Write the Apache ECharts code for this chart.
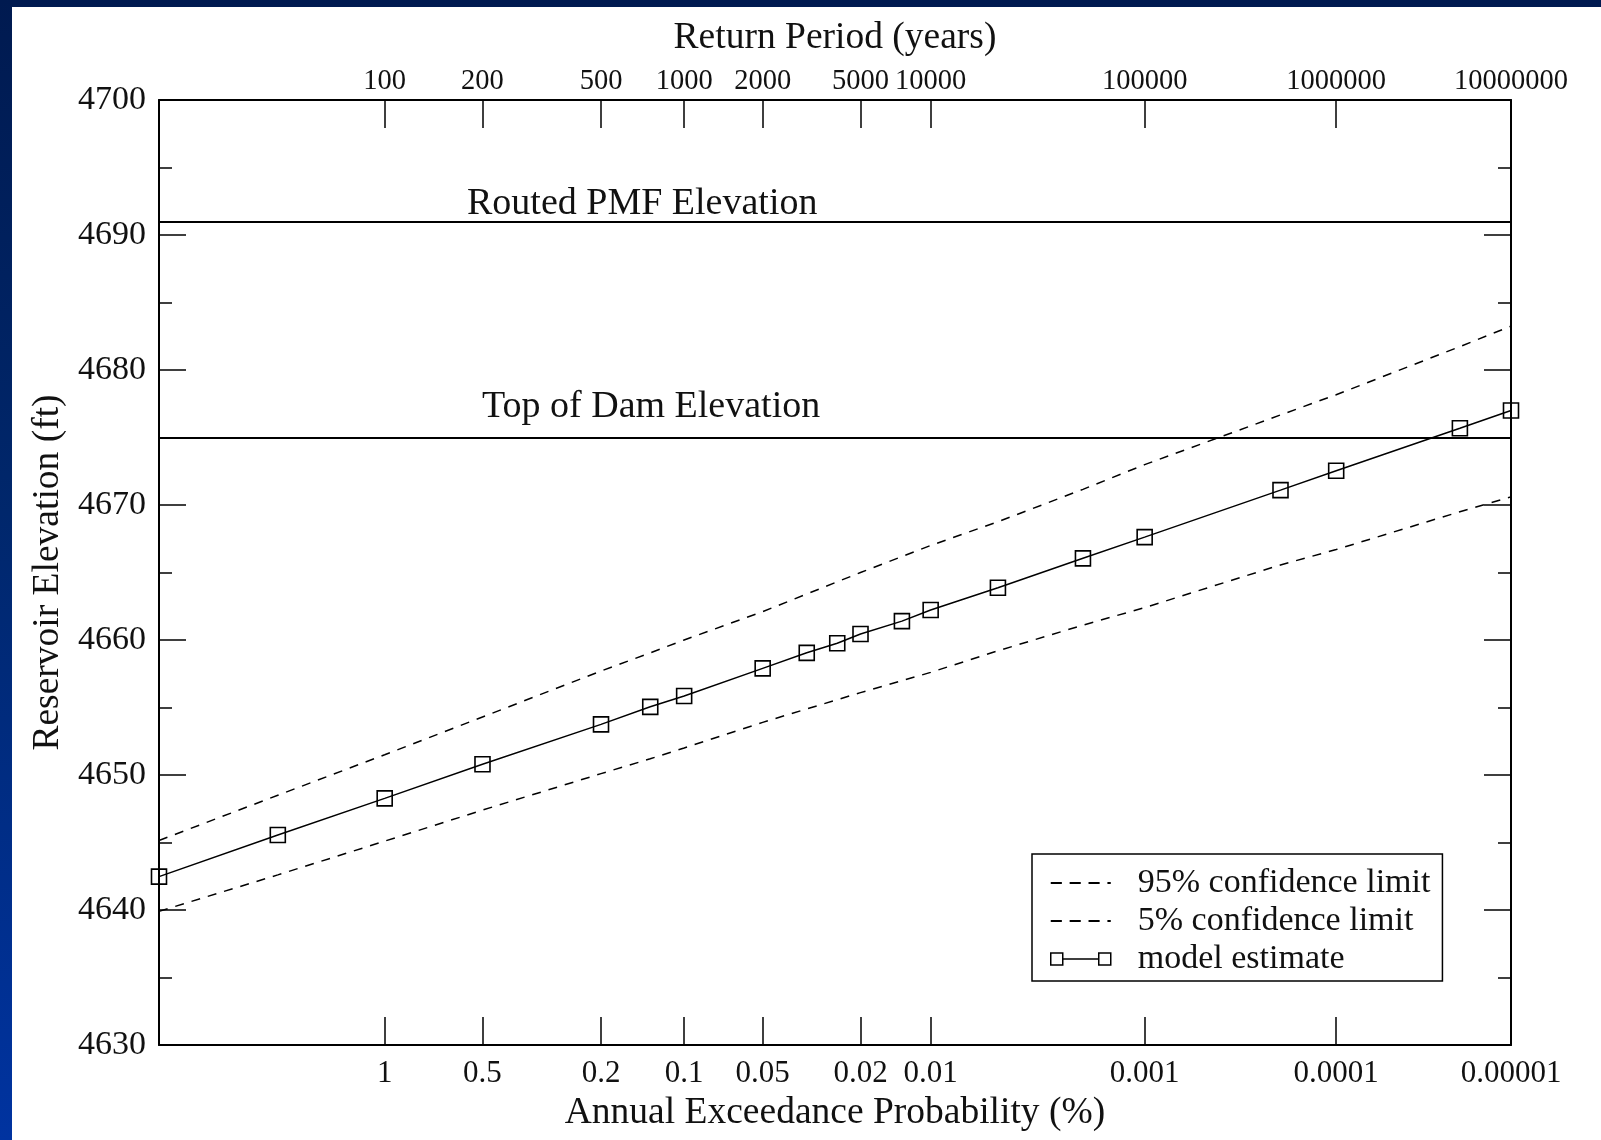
<!DOCTYPE html>
<html><head><meta charset="utf-8">
<script src="https://cdn.jsdelivr.net/npm/echarts@6/dist/echarts.min.js"></script>
<style>
html,body{margin:0;padding:0;width:1601px;height:1140px;overflow:hidden;}
body{background:linear-gradient(to bottom,#001a50 0%,#00276c 45%,#0033a0 100%);position:relative;}
#paper{position:absolute;left:12px;top:7px;right:0;bottom:0;background:#fff;}
#chart{position:absolute;left:0;top:0;width:1601px;height:1140px;}
</style></head><body><div id="paper"></div><div id="chart"></div>
<script>
// ---------------- data ----------------
const axisReturnPeriodMin = 25;
const axisReturnPeriodMax = 10000000;
const returnPeriods = [25,50,100,200,500,750,1000,2000,3000,4000,5000,7500,10000,20000,50000,100000,500000,1000000,5000000,10000000];
const modelEstimate = [4642.47,4645.56,4648.27,4650.8,4653.75,4655.05,4655.85,4657.9,4659.05,4659.76,4660.44,4661.4,4662.22,4663.87,4666.05,4667.62,4671.1,4672.54,4675.68,4677.0];
const limitPeriods = [25,50,100,200,500,750,1000,2000,5000,10000,20000,50000,100000,500000,1000000,5000000,10000000];
const upper95 = [4645.15,4648.5,4651.5,4654.3,4657.7,4659.05,4660.0,4662.1,4665.0,4667.0,4668.76,4671.16,4672.99,4676.67,4678.17,4681.73,4683.25];
const lower5 = [4639.9,4642.6,4645.1,4647.4,4650.1,4651.2,4652.0,4653.9,4656.1,4657.6,4659.2,4661.1,4662.4,4665.56,4666.7,4669.5,4670.6];
const aepTicksPct = [1,0.5,0.2,0.1,0.05,0.02,0.01,0.001,0.0001,0.00001];
const aepLabels = ['1','0.5','0.2','0.1','0.05','0.02','0.01','0.001','0.0001','0.00001'];
const rpTicks = [100,200,500,1000,2000,5000,10000,100000,1000000,10000000];
const rpLabels = ['100','200','500','1000','2000','5000','10000','100000','1000000','10000000'];
const yMin = 4630, yMax = 4700, yInterval = 10;
const refLineNames = ['Routed PMF Elevation','Top of Dam Elevation'];
const refLineValues = [4691, 4675];
const seriesNames = ['95% confidence limit','5% confidence limit','model estimate'];

// ---------------- normal probability scale ----------------
function normInv(p){
  const a=[-3.969683028665376e+01,2.209460984245205e+02,-2.759285104469687e+02,1.383577518672690e+02,-3.066479806614716e+01,2.506628277459239e+00];
  const b=[-5.447609879822406e+01,1.615858368580409e+02,-1.556989798598866e+02,6.680131188771972e+01,-1.328068155288572e+01];
  const c=[-7.784894002430293e-03,-3.223964580411365e-01,-2.400758277161838e+00,-2.549732539343734e+00,4.374664141464968e+00,2.938163982698783e+00];
  const d=[7.784695709041462e-03,3.224671290700398e-01,2.445134137142996e+00,3.754408661907416e+00];
  const pl=0.02425; let q,r;
  if(p<pl){q=Math.sqrt(-2*Math.log(p));return (((((c[0]*q+c[1])*q+c[2])*q+c[3])*q+c[4])*q+c[5])/((((d[0]*q+d[1])*q+d[2])*q+d[3])*q+1);}
  if(p<=1-pl){q=p-0.5;r=q*q;return (((((a[0]*r+a[1])*r+a[2])*r+a[3])*r+a[4])*r+a[5])*q/(((((b[0]*r+b[1])*r+b[2])*r+b[3])*r+b[4])*r+1);}
  q=Math.sqrt(-2*Math.log(1-p));return -(((((c[0]*q+c[1])*q+c[2])*q+c[3])*q+c[4])*q+c[5])/((((d[0]*q+d[1])*q+d[2])*q+d[3])*q+1);
}
const zOfP = p => -normInv(p);          // exceedance probability (fraction) -> normal variate
const zOfT = T => zOfP(1 / T);          // return period -> normal variate

const xMin = zOfT(axisReturnPeriodMin), xMax = zOfT(axisReturnPeriodMax);
const aepZ = aepTicksPct.map(v => zOfP(v / 100));
const rpZ = rpTicks.map(zOfT);
function labelFor(v, zs, labels){
  let best = 0, bd = Infinity;
  zs.forEach((z,i)=>{const d=Math.abs(z-v); if(d<bd){bd=d;best=i;}});
  return labels[best];
}

const FONT = 'Liberation Serif';
const BLACK = '#000';
const TXT = '#111';

const chart = echarts.init(document.getElementById('chart'), null, {renderer:'canvas'});

const axisLineStyle = {color: BLACK, width: 2};
const option = {
  animation: false,
  backgroundColor: 'transparent',
  textStyle: {fontFamily: FONT},
  grid: {left: 159, right: 90, top: 100, bottom: 95, containLabel: false},
  xAxis: [
    {
      type: 'value', position: 'bottom', min: xMin, max: xMax,
      name: 'Annual Exceedance Probability (%)', nameLocation: 'middle', nameGap: 48,
      nameTextStyle: {fontFamily: FONT, fontSize: 37.5, color: TXT},
      axisLine: {show: true, onZero: false, lineStyle: axisLineStyle},
      axisTick: {show: true, inside: true, length: 28, lineStyle: {color: BLACK, width: 1.5}, customValues: aepZ},
      axisLabel: {show: true, margin: 13, fontFamily: FONT, fontSize: 31, color: TXT, customValues: aepZ,
                  formatter: v => labelFor(v, aepZ, aepLabels), showMinLabel: true, showMaxLabel: true, hideOverlap: false},
      splitLine: {show: false}
    },
    {
      type: 'value', position: 'top', min: xMin, max: xMax,
      name: 'Return Period (years)', nameLocation: 'middle', nameGap: 43,
      nameTextStyle: {fontFamily: FONT, fontSize: 37.5, color: TXT},
      axisLine: {show: true, onZero: false, lineStyle: axisLineStyle},
      axisTick: {show: true, inside: true, length: 28, lineStyle: {color: BLACK, width: 1.5}, customValues: rpZ},
      axisLabel: {show: true, margin: 4, fontFamily: FONT, fontSize: 28.5, color: TXT, customValues: rpZ,
                  formatter: v => labelFor(v, rpZ, rpLabels), hideOverlap: false},
      splitLine: {show: false}
    }
  ],
  yAxis: [
    {
      type: 'value', position: 'left', min: yMin, max: yMax, interval: yInterval,
      name: 'Reservoir Elevation (ft)', nameLocation: 'middle', nameGap: 88, nameRotate: 90,
      nameTextStyle: {fontFamily: FONT, fontSize: 37.5, color: TXT},
      axisLine: {show: true, onZero: false, lineStyle: axisLineStyle},
      axisTick: {show: true, inside: true, length: 27, lineStyle: {color: BLACK, width: 1.5}},
      minorTick: {show: true, splitNumber: 2, length: 13, lineStyle: {color: BLACK, width: 1.5}},
      axisLabel: {margin: 13, fontFamily: FONT, fontSize: 34, color: TXT, padding: [5,0,0,0], formatter: v => String(v)},
      splitLine: {show: false}
    },
    {
      type: 'value', position: 'right', min: yMin, max: yMax, interval: yInterval,
      axisLine: {show: true, onZero: false, lineStyle: axisLineStyle},
      axisTick: {show: true, inside: true, length: 27, lineStyle: {color: BLACK, width: 1.5}},
      minorTick: {show: true, splitNumber: 2, length: 13, lineStyle: {color: BLACK, width: 1.5}},
      axisLabel: {show: false},
      splitLine: {show: false}
    }
  ],
  legend: {
    orient: 'vertical', left: 1032, top: 854, selectedMode: false,
    backgroundColor: '#fff', borderColor: BLACK, borderWidth: 1.5, borderRadius: 0,
    padding: [10, 12, 3, 18],
    itemWidth: 60, itemHeight: 14, itemGap: 0,
    textStyle: {fontFamily: FONT, fontSize: 34, color: TXT, lineHeight: 38, padding: [0,0,0,22]},
    data: [
      {name: seriesNames[0], icon: 'path://M0,0h10v1.6h-10z M17,0h10v1.6h-10z M34,0h10v1.6h-10z M51,0h3v1.6h-3z',
       itemStyle: {color: BLACK, borderWidth: 0}},
      {name: seriesNames[1], icon: 'path://M0,0h10v1.6h-10z M17,0h10v1.6h-10z M34,0h10v1.6h-10z M51,0h3v1.6h-3z',
       itemStyle: {color: BLACK, borderWidth: 0}},
      {name: seriesNames[2], icon: 'path://M0,0h12v12h-12z M12,6h36 M48,0h12v12h-12z',
       itemStyle: {color: 'rgba(0,0,0,0)', borderColor: BLACK, borderWidth: 1.5}}
    ]
  },
  series: [
    {
      name: seriesNames[0], type: 'line', xAxisIndex: 0, yAxisIndex: 0, symbol: 'none', silent: true,
      color: BLACK, lineStyle: {color: BLACK, width: 1.5, type: [9, 8]},
      data: limitPeriods.map((T,i) => [zOfT(T), upper95[i]])
    },
    {
      name: seriesNames[1], type: 'line', xAxisIndex: 0, yAxisIndex: 0, symbol: 'none', silent: true,
      color: BLACK, lineStyle: {color: BLACK, width: 1.5, type: [9, 8]},
      data: limitPeriods.map((T,i) => [zOfT(T), lower5[i]])
    },
    {
      name: seriesNames[2], type: 'line', xAxisIndex: 0, yAxisIndex: 0, silent: true,
      symbol: 'rect', symbolSize: 15, color: BLACK,
      itemStyle: {color: 'rgba(0,0,0,0)', borderColor: BLACK, borderWidth: 1.6},
      lineStyle: {color: BLACK, width: 1.5},
      data: returnPeriods.map((T,i) => [zOfT(T), modelEstimate[i]]),
      markLine: {
        silent: true, symbol: 'none', animation: false,
        lineStyle: {color: BLACK, width: 1.8, type: 'solid'},
        data: [
          {name: refLineNames[0], yAxis: refLineValues[0],
           label: {show: true, position: 'insideStartTop', distance: [308, -2], formatter: '{b}',
                   fontFamily: FONT, fontSize: 38, color: TXT}},
          {name: refLineNames[1], yAxis: refLineValues[1],
           label: {show: true, position: 'insideStartTop', distance: [323, 11], formatter: '{b}',
                   fontFamily: FONT, fontSize: 38, color: TXT}}
        ]
      }
    }
  ]
};
chart.setOption(option);
</script></body></html>
